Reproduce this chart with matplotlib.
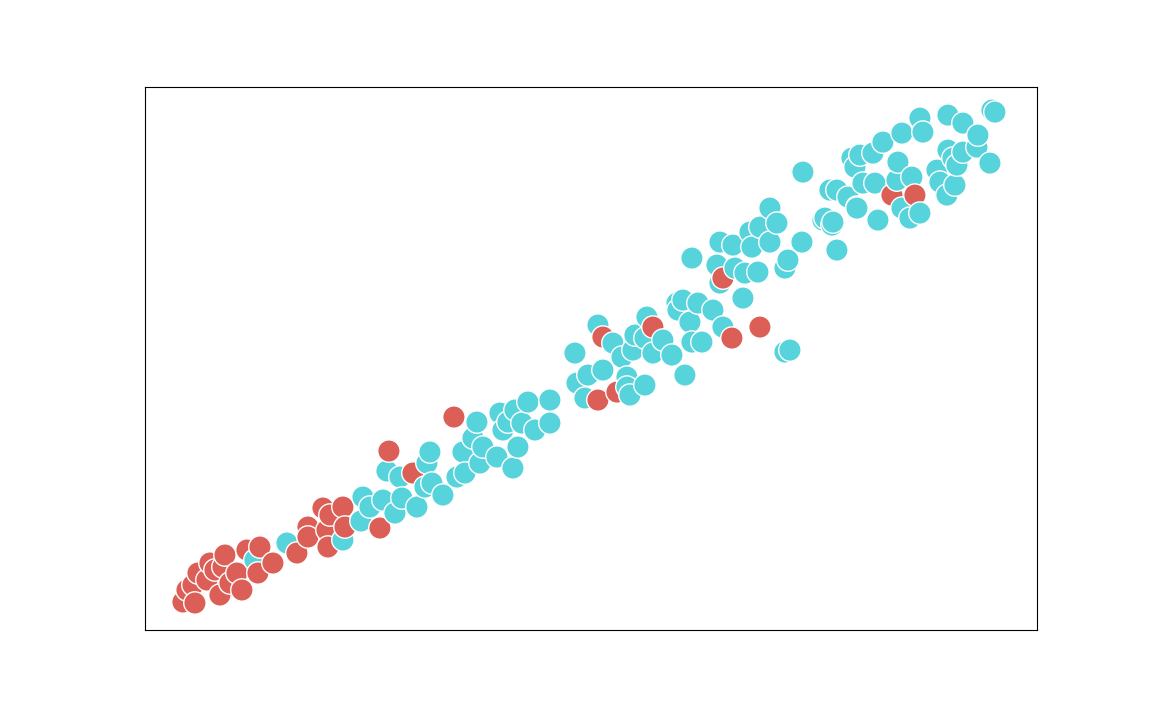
import matplotlib
matplotlib.use("Agg")
import matplotlib.pyplot as plt

# Point positions (arbitrary units)
red_px = [(183,602),(195,603),(193,585),(187,590),(198,573),(207,580),(220,595),(230,583),(242,590),
          (223,567),(225,555),(215,570),(247,550),(260,547),(258,573),(273,563),(237,573),(210,563),
          (297,553),
          (308,527),(308,537),(327,530),(330,515),(323,508),(343,507),(328,547),(345,527),(380,528),
          (389,451),(413,473),(454,417),(603,337),(598,400),(617,392),(653,327),(723,278),(732,338),
          (760,327),(892,195),(915,195)]
cyan_px = [(255,560),(287,543),(343,540),
           (361,521),(370,507),(383,500),(395,513),(402,498),(417,507),(363,497),(387,471),(400,477),
           (430,452),(427,463),(425,487),(432,483),(443,495),(457,477),(465,473),(463,452),(473,438),
           (477,422),(483,447),(480,463),(497,457),(513,468),(518,447),(500,413),(515,410),(528,402),
           (550,400),(550,423),(535,430),(522,423),(503,430),(508,422),
           (575,353),(598,325),(613,343),(577,383),(588,375),(603,370),(627,377),(627,387),(585,398),
           (630,395),(645,385),(635,335),(647,317),(633,350),(622,357),(645,338),(653,353),(663,340),
           (672,355),(685,375),(678,310),(677,303),(698,303),(713,310),(690,322),(692,342),(702,342),
           (723,327),(743,298),(790,350),(785,352),
           (692,258),(720,242),(733,245),(717,265),(720,283),(742,298),(735,268),(745,273),(758,272),
           (752,247),(750,232),(760,227),(770,208),(777,223),(770,242),(785,268),(788,260),(802,242),
           (823,220),(832,225),(837,250),(683,300),(837,190),(857,208),(803,172),
           (920,118),(948,115),(963,123),(923,132),(902,133),(883,142),(948,150),(963,152),(978,135),
           (977,147),(990,163),(992,110),(995,112),(860,155),(852,158),(873,153),(855,167),(898,162),
           (937,170),(940,182),(953,158),(957,165),(955,185),(947,195),(912,177),(897,180),(863,183),
           (875,183),(830,190),(848,197),(857,207),(878,220),(902,208),(920,213),(910,218),(825,218),
           (833,222)]

x_vals = [p[0] - 145 for p in red_px] + [p[0] - 145 for p in cyan_px]
y_vals = [630 - p[1] for p in red_px] + [630 - p[1] for p in cyan_px]
groups = [0] * len(red_px) + [1] * len(cyan_px)

palette = ["#db5f57", "#57d3db"]

# draw in order of x so overlaps are natural
order = sorted(range(len(x_vals)), key=lambda i: (x_vals[i] + 0.3 * (i % 7)))
xs = [x_vals[i] for i in order]
ys = [y_vals[i] for i in order]
cs = [palette[groups[i]] for i in order]

fig = plt.figure(figsize=(11.52, 7.2), dpi=100)
ax = fig.add_axes([0.1258, 0.125, 0.7743, 0.754])
ax.scatter(xs, ys, c=cs, s=260, edgecolors="white", linewidths=1.0)
ax.set_xlim(0, 892)
ax.set_ylim(0, 543)
ax.set_xticks([])
ax.set_yticks([])
for sp in ax.spines.values():
    sp.set_linewidth(0.8)
    sp.set_color("black")
fig.savefig("out.png", dpi=100)
